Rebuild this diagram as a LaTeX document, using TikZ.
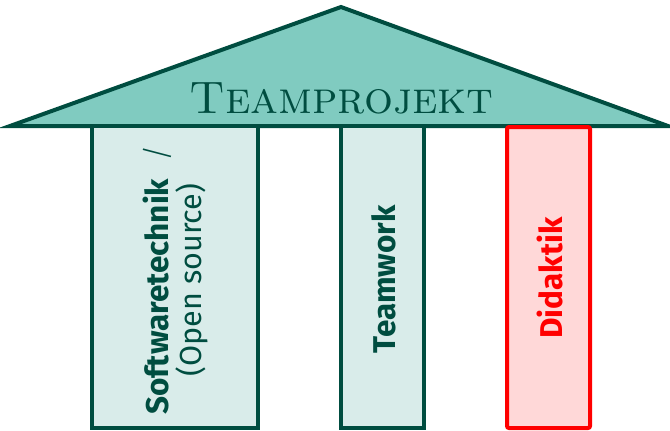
\documentclass[tikz,border=0pt]{standalone}
\usepackage{fontspec}
\newfontfamily\pillarfont[BoldFont={Fira Sans Bold}]{Fira Sans}
\IfFontExistsTF{Fira Sans Light}{%
  \newfontfamily\slashfont{Fira Sans Light}}{%
  \newfontfamily\slashfont{Fira Sans}}
\definecolor{dk}{HTML}{004D40}
\definecolor{rooffill}{HTML}{80CBC0}
\definecolor{pilfill}{HTML}{D9ECEA}
\definecolor{rd}{HTML}{FF0000}
\definecolor{rdfill}{HTML}{FFD8D8}
\begin{document}
\begin{tikzpicture}[x=1pt,y=-1pt,line width=4pt,
  pillar/.style={draw=dk,fill=pilfill,inner sep=0pt,minimum height=302pt},
  redpillar/.style={draw=rd,fill=rdfill,inner sep=0pt,minimum height=301pt,rounded corners=2pt},
  pillartext/.style={rotate=90,align=center,text=dk,inner sep=0pt,font=\pillarfont\fontsize{31.5}{33}\selectfont},
  title/.style={text=dk,inner sep=0pt,font=\fontsize{45.5}{45.5}\selectfont\scshape}]
\useasboundingbox (0,0) rectangle (670,431);
\coordinate (roofL) at (10,126);
\coordinate (apex) at (341,7);
\coordinate (roofR) at (668,126);
\draw[dk,fill=rooffill] (roofL) -- (apex) -- (roofR) -- cycle;
\node[title,anchor=base] (t) at (341.5,113) {Teamprojekt};
\node[pillar,minimum width=166pt] (p1) at (175,277) {};
\node[pillar,minimum width=83pt] (p2) at (382.5,277) {};
\node[redpillar,minimum width=83pt] (p3) at (548.5,277.5) {};
\node[pillartext] (l1) at (175,280) {\textbf{Softwaretechnik}\ \ {\slashfont /}\\{\fontsize{30.5}{33}\selectfont(Open source)}};
\node[pillartext] (l2) at (383.5,279) {\textbf{Teamwork}};
\node[pillartext,text=rd] (l3) at (549.5,278) {\textbf{Didaktik}};
\end{tikzpicture}
\end{document}
